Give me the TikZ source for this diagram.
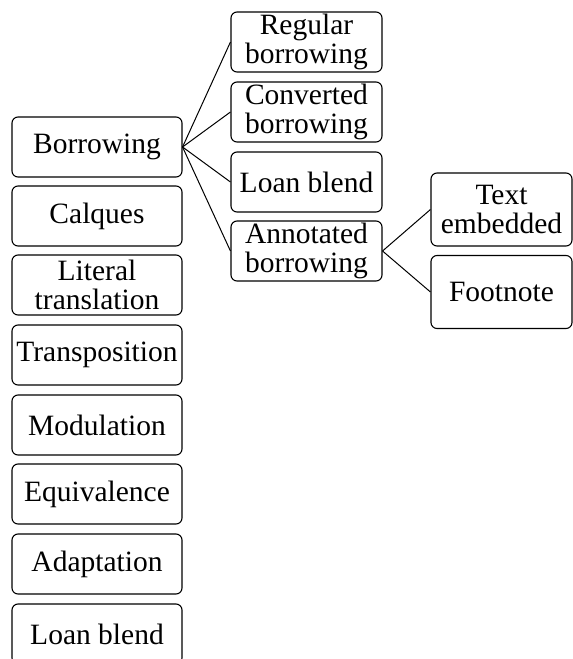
\documentclass[tikz,border=0pt]{standalone}
\usepackage{fontspec}
\setmainfont{Liberation Serif}
\begin{document}
\begin{tikzpicture}[x=1pt,y=-1pt,
  box/.style={draw=black, line width=1.1pt, rounded corners=6pt, align=center, inner sep=0pt,
    font=\fontsize{29.5}{29.5}\selectfont},
  lbox/.style={box, minimum width=170pt, minimum height=60pt},
  mbox/.style={box, minimum width=151pt, minimum height=60pt},
  rbox/.style={box, minimum width=141pt, minimum height=73pt},
  link/.style={draw=black, line width=1pt}]
\useasboundingbox (0,0) rectangle (573,659);
\node[lbox] (borrow) at (97,147) {Borrowing};
\node[lbox] (calq) at (97,216) {Calques};
\node[lbox] (lit) at (97,285) {Literal\\translation};
\node[lbox] (trans) at (97,355) {Transposition};
\node[lbox] (mod) at (97,425) {Modulation};
\node[lbox] (equiv) at (97,494) {Equivalence};
\node[lbox] (adapt) at (97,564) {Adaptation};
\node[lbox] (loanL) at (97,634) {Loan blend};
\node[mbox] (reg) at (306.5,42) {Regular\\borrowing};
\node[mbox] (conv) at (306.5,112) {Converted\\borrowing};
\node[mbox] (loanM) at (306.5,182) {Loan blend};
\node[mbox] (annot) at (306.5,251) {Annotated\\borrowing};
\node[rbox] (text) at (501.5,209.5) {Text\\embedded};
\node[rbox] (foot) at (501.5,292) {Footnote};
\foreach \t in {reg,conv,loanM,annot} \draw[link] (borrow.east) -- (\t.west);
\foreach \t in {text,foot} \draw[link] (annot.east) -- (\t.west);
\end{tikzpicture}
\end{document}
